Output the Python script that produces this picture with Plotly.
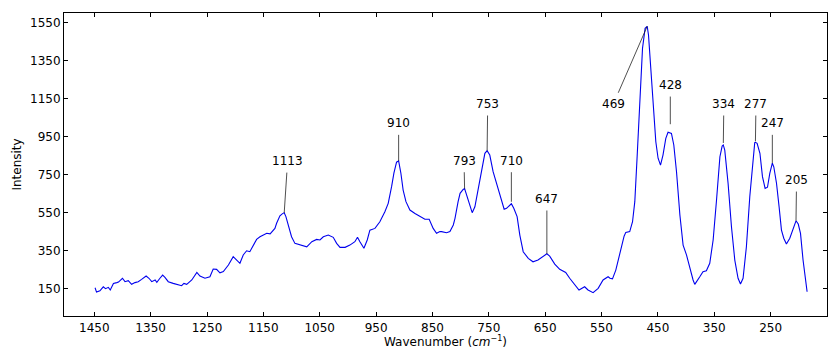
import numpy as np
import plotly.graph_objects as go

# Raman spectrum: wavenumber (cm^-1) and intensity
wavenumber = [
    1448.6, 1446, 1440, 1434, 1430, 1425, 1421.6, 1416, 1410, 1407, 1400, 1395.5,
    1389.7, 1383.7, 1377.8, 1372, 1366, 1358, 1353, 1348, 1342, 1339, 1333.5, 1328.7,
    1324.6, 1318.7, 1310, 1301, 1295, 1291, 1286, 1277, 1268, 1262.5, 1253.6, 1244.8,
    1239, 1233, 1227, 1221, 1212, 1203.5, 1197.5, 1191.6, 1185.7, 1179.7, 1174, 1168,
    1162, 1156, 1150, 1144, 1138, 1132.5, 1129.5, 1126.5, 1120.6, 1116, 1113, 1110,
    1106, 1100, 1094, 1085, 1073, 1064, 1055.5, 1049.6, 1043.6, 1034.8, 1026, 1020,
    1014, 1005, 996.5, 987.6, 983, 978.7, 971.6, 965.7, 961, 952, 943.3, 934.4,
    928.5, 922.5, 918.4, 913.7, 910, 906, 902, 897, 890, 881, 872, 863.4,
    855.8, 848.7, 842.7, 836.8, 833.8, 825, 819, 816, 813, 810, 807, 804.5,
    801, 798.5, 795.5, 793, 790.7, 784.8, 779.5, 774.7, 769, 763, 757, 753,
    748.3, 742.4, 736.3, 730.4, 722.8, 718.5, 714, 710, 705.7, 699.8, 695, 689,
    680, 671.6, 662.7, 653.8, 647, 642, 633, 624.2, 613.6, 606.5, 597.6, 590,
    580, 574, 565, 556, 547.3, 538.4, 535, 530.6, 524.7, 518.8, 514.6, 510,
    507, 500, 495, 491, 487, 482, 477.3, 472.7, 469, 466.7, 463, 458.5,
    453.7, 449.7, 445.4, 441, 436, 432, 428, 426, 421.8, 417, 411, 405.3,
    399.3, 393.4, 387.6, 384.6, 378.7, 375.7, 370, 364, 358, 352, 346, 340,
    336, 334, 331.4, 327.3, 325.5, 319.5, 313.6, 307.8, 303.5, 298.9, 293, 287,
    281, 278.2, 277, 274, 269, 264.5, 259.8, 255.6, 251.5, 248, 247, 244.4,
    239.6, 235, 230.8, 226.7, 222, 216, 211, 205, 201, 197, 192.5, 187.7,
    185.3,
]
intensity = [
    153, 130, 137, 158, 148, 155, 141, 176, 180, 183, 203, 185,
    190, 171, 180, 185, 197, 215, 203, 185, 194, 182, 203, 220,
    208, 185, 176, 171, 164, 176, 171, 194, 234, 215, 203, 211,
    252, 250, 232, 238, 273, 317, 299, 282, 326, 348, 343, 378,
    408, 422, 431, 440, 437, 457, 466, 493, 532, 544, 548, 528,
    484, 422, 387, 378, 369, 396, 408, 405, 422, 431, 419, 387,
    366, 366, 378, 396, 419, 396, 361, 405, 457, 466, 501, 554,
    598, 686, 757, 815, 822, 757, 668, 607, 563, 545, 528, 514,
    514, 466, 440, 449, 449, 443, 449, 466, 484, 519, 580, 607,
    651, 662, 672, 676, 654, 589, 549, 580, 668, 774, 862, 876,
    853, 765, 704, 642, 567, 572, 585, 596, 572, 528, 431, 343,
    308, 290, 299, 320, 332, 320, 278, 250, 234, 203, 167, 141,
    158, 141, 127, 150, 194, 211, 203, 200, 246, 317, 378, 425,
    445, 449, 501, 607, 836, 1152, 1416, 1521, 1532, 1486, 1328, 1099,
    923, 836, 800, 853, 941, 973, 968, 967, 906, 765, 537, 378,
    326, 255, 194, 171, 194, 211, 238, 243, 282, 405, 616, 844,
    900, 906, 879, 760, 704, 475, 299, 203, 173, 203, 369, 633,
    844, 918, 920, 915, 862, 739, 677, 683, 756, 809, 810, 791,
    704, 580, 457, 414, 384, 414, 457, 506, 489, 440, 299, 185,
    132,
]

# Labelled peaks and where their labels sit
peak_wn = [1113, 910, 793, 753, 710, 647, 469, 428, 334, 277, 247, 205]
label_wn = [1107, 910, 794, 752, 710, 647, 529, 428, 333, 276, 247, 204]
label_int = [821, 1020, 823, 1122, 823, 621, 1122, 1222, 1122, 1122, 1020, 721]
tip_gap = [0, 0, 0, 0, 2, 0, 0, 9, 2, 1, 0, 0]

x_ticks = [1450, 1350, 1250, 1150, 1050, 950, 850, 750, 650, 550, 450, 350, 250, 150]
y_ticks = [150, 350, 550, 750, 950, 1150, 1350, 1550]

wn_arr = np.array(wavenumber)
int_arr = np.array(intensity)
order = np.argsort(wn_arr)

fig = go.Figure()
fig.add_trace(go.Scatter(
    x=wavenumber, y=intensity, mode="lines",
    line=dict(color="#0000ee", width=1.1),
    showlegend=False, hoverinfo="skip",
))

for pw, lw, li, gap in zip(peak_wn, label_wn, label_int, tip_gap):
    peak_val = float(np.interp(pw, wn_arr[order], int_arr[order]))
    fig.add_annotation(
        x=pw, y=peak_val, xref="x", yref="y",
        ax=lw, ay=li, axref="x", ayref="y",
        text=str(pw), showarrow=True, arrowhead=0,
        arrowwidth=0.8, arrowcolor="#222222",
        standoff=gap, startstandoff=3,
        font=dict(family="DejaVu Sans", size=12, color="black"),
    )

# x-axis title placed just under the tick labels
fig.add_annotation(
    x=0.5, y=0, xref="paper", yref="paper",
    xanchor="center", yanchor="top", yshift=-17, borderpad=0,
    text="Wavenumber (<i>cm</i><sup><span style='font-size:8px'>−1</span></sup>)",
    showarrow=False,
    font=dict(family="DejaVu Sans", size=12, color="black"),
)

axis_common = dict(
    showline=True, linecolor="black", linewidth=1, mirror="ticks",
    ticks="inside", ticklen=4, tickwidth=0.8, tickcolor="black",
    showgrid=False, zeroline=False, automargin=False,
    tickfont=dict(family="DejaVu Sans", size=12, color="black"),
)

fig.update_layout(
    width=837, height=349,
    margin=dict(l=64, r=10, t=13, b=33),
    paper_bgcolor="white", plot_bgcolor="white",
    xaxis=dict(
        range=[1503.7, 150], tickvals=x_ticks, ticklabelstandoff=1,
        **axis_common,
    ),
    yaxis=dict(
        range=[4, 1602], tickvals=y_ticks,
        title=dict(text="Intensity",
                   font=dict(family="DejaVu Sans", size=12, color="black"),
                   standoff=5),
        **axis_common,
    ),
)

fig.write_html("out.html")
